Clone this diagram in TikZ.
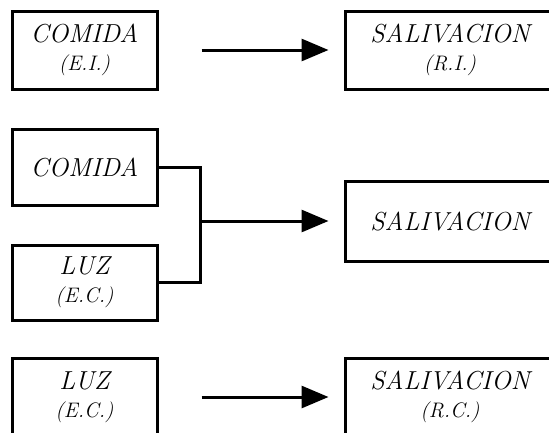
\documentclass[tikz,border=0pt]{standalone}
\usetikzlibrary{arrows.meta,positioning}
\begin{document}
\begin{tikzpicture}[x=1pt,y=-1pt,line width=3pt,
 b/.style={draw,inner sep=0pt,minimum width=145pt,minimum height=78pt,align=center,font=\fontsize{26}{28}\selectfont\itshape},
 r/.style={b,minimum width=210pt},
 a/.style={-{Triangle[length=27pt,width=22pt]}}]
\newcommand\sub[1]{{\fontsize{21}{22}\selectfont #1}}
\useasboundingbox (0,0) rectangle (549,432);
\clip (0,0) rectangle (549,432);
\node[b](ei) at (84.5,50){COMIDA\\\sub{(E.I.)}};
\node[r](ri) at (450,50){SALIVACION\\\sub{(R.I.)}};
\node[b,minimum height=76pt](co) at (84.5,167){COMIDA};
\node[b,minimum height=75pt](lu) at (84.5,282.5){LUZ\\\sub{(E.C.)}};
\coordinate (j) at (200,221);
\node[r,minimum height=80pt](sa) at (450,221){SALIVACION};
\node[b](ec) at (84.5,397){LUZ\\\sub{(E.C.)}};
\node[r](rc) at (450,397){SALIVACION\\\sub{(R.C.)}};
\draw[a]([xshift=43pt]ei.east)--([xshift=-15pt]ri.west);
\draw(co.east)-|(j)|-(lu.east);\draw[a](j)--([xshift=-15pt]sa.west);
\draw[a]([xshift=43pt]ec.east)--([xshift=-15pt]rc.west);
\end{tikzpicture}
\end{document}
